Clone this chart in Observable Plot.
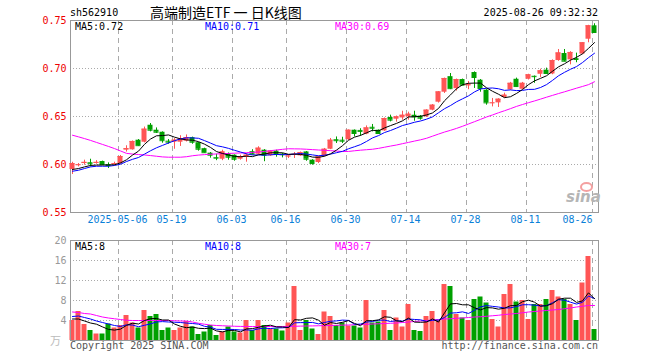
<!DOCTYPE html>
<html><head><meta charset="utf-8">
<script src="https://cdn.jsdelivr.net/npm/d3@7"></script>
<script src="https://cdn.jsdelivr.net/npm/@observablehq/plot@0.6"></script>
<style>
body{margin:0;background:#fff;}
#wrap{position:relative;width:660px;height:360px;background:#fff;overflow:hidden;font-family:"DejaVu Sans Mono",monospace;font-size:10px;}
.t{position:absolute;white-space:nowrap;line-height:10px;}
#price,#vol{position:absolute;left:0;}
#price{top:0;}
#vol{top:232px;}
</style></head>
<body><div id="wrap">
<div class="t" style="left:70px;top:8px;color:#000">sh562910</div>
<div class="t" style="left:150px;top:5px;font-family:'Noto Sans CJK SC';font-size:14px;line-height:14px;color:#000">高端制造ETF 一 日K线图</div>
<div class="t" style="right:62px;top:8px;color:#000">2025-08-26 09:32:32</div>
<div id="price"></div>
<div id="vol"></div>
<div class="t" id="pl0" style="left:75px;top:22px;color:#000"></div>
<div class="t" id="pl1" style="left:205px;top:22px;color:#00f"></div>
<div class="t" id="pl2" style="left:335px;top:22px;color:#f0f"></div>
<div class="t" id="vl0" style="left:75px;top:242px;color:#000"></div>
<div class="t" id="vl1" style="left:205px;top:242px;color:#00f"></div>
<div class="t" id="vl2" style="left:335px;top:242px;color:#f0f"></div>
<div class="t" style="left:50px;top:335px;color:#bbb;font-family:'Noto Sans CJK SC';font-size:11px;line-height:11px">万</div>
<div class="t" style="left:70px;top:341px;color:#555">Copyright 2025 SINA.COM</div>
<div class="t" style="right:62px;top:341px;color:#555">http://finance.sina.com.cn</div>
<div class="t" style="left:566px;top:190px;color:#b5b5b5;font-family:'DejaVu Sans';font-style:italic;font-weight:bold;font-size:15px;line-height:15px">sina</div>
<div style="position:absolute;left:580px;top:182px;width:9px;height:6px;border:2px solid #f4a0a0;border-radius:50%"></div>
</div>
<script>
const dates = ["2025-04-21","2025-04-22","2025-04-23","2025-04-24","2025-04-25","2025-04-28","2025-04-29","2025-04-30",
"2025-05-06","2025-05-07","2025-05-08","2025-05-09","2025-05-12","2025-05-13","2025-05-14","2025-05-15","2025-05-16","2025-05-19","2025-05-20","2025-05-21","2025-05-22","2025-05-23","2025-05-26","2025-05-27","2025-05-28","2025-05-29","2025-05-30",
"2025-06-03","2025-06-04","2025-06-05","2025-06-06","2025-06-09","2025-06-10","2025-06-11","2025-06-12","2025-06-13","2025-06-16","2025-06-17","2025-06-18","2025-06-19","2025-06-20","2025-06-23","2025-06-24","2025-06-25","2025-06-26","2025-06-27","2025-06-30",
"2025-07-01","2025-07-02","2025-07-03","2025-07-04","2025-07-07","2025-07-08","2025-07-09","2025-07-10","2025-07-11","2025-07-14","2025-07-15","2025-07-16","2025-07-17","2025-07-18","2025-07-21","2025-07-22","2025-07-23","2025-07-24","2025-07-25","2025-07-28","2025-07-29","2025-07-30","2025-07-31",
"2025-08-01","2025-08-04","2025-08-05","2025-08-06","2025-08-07","2025-08-08","2025-08-11","2025-08-12","2025-08-13","2025-08-14","2025-08-15","2025-08-18","2025-08-19","2025-08-20","2025-08-21","2025-08-22","2025-08-25","2025-08-26"];

const open = [0.5948,0.5990,0.6010,0.6018,0.6012,0.6031,0.5997,0.6002,0.6010,0.6150,
0.6153,0.6253,0.6232,0.6409,0.6357,0.6336,0.6243,0.6232,0.6232,0.6243,
0.6279,0.6227,0.6165,0.6118,0.6073,0.6055,0.6113,0.6097,0.6055,0.6076,
0.6133,0.6107,0.6149,0.6090,0.6139,0.6108,0.6082,0.6100,0.6090,0.6131,
0.6045,0.6021,0.6086,0.6159,0.6258,0.6253,0.6258,0.6357,0.6355,0.6316,
0.6388,0.6357,0.6350,0.6490,0.6472,0.6485,0.6496,0.6513,0.6503,0.6496,
0.6566,0.6649,0.6753,0.6915,0.6790,0.6885,0.6820,0.6958,0.6878,0.6774,
0.6637,0.6642,0.6698,0.6777,0.6888,0.6784,0.6888,0.6919,0.6940,0.6983,
0.6943,0.7083,0.7156,0.7090,0.7102,0.7150,0.7305,0.7445];
const high = [0.6023,0.6010,0.6045,0.6055,0.6040,0.6035,0.6017,0.6024,0.6094,0.6195,
0.6245,0.6260,0.6390,0.6427,0.6381,0.6340,0.6260,0.6270,0.6300,0.6308,
0.6285,0.6230,0.6170,0.6125,0.6107,0.6149,0.6120,0.6100,0.6097,0.6113,
0.6154,0.6185,0.6155,0.6145,0.6149,0.6115,0.6097,0.6125,0.6130,0.6135,
0.6050,0.6085,0.6167,0.6271,0.6287,0.6284,0.6360,0.6360,0.6373,0.6402,
0.6417,0.6360,0.6485,0.6514,0.6505,0.6555,0.6545,0.6555,0.6510,0.6570,
0.6625,0.6760,0.6900,0.6948,0.6890,0.6890,0.6865,0.6965,0.6885,0.6780,
0.6688,0.6685,0.6743,0.6855,0.6900,0.6855,0.6940,0.6922,0.6993,0.7004,
0.7090,0.7198,0.7198,0.7175,0.7160,0.7270,0.7450,0.7466];
const low = [0.5896,0.5975,0.5993,0.5975,0.6003,0.5992,0.5958,0.5993,0.6003,0.6130,
0.6150,0.6190,0.6225,0.6340,0.6323,0.6222,0.6211,0.6159,0.6188,0.6235,
0.6211,0.6139,0.6118,0.6066,0.6040,0.6040,0.6045,0.6034,0.6045,0.6024,
0.6100,0.6100,0.6029,0.6085,0.6076,0.6069,0.6062,0.6063,0.6085,0.6034,
0.5993,0.6010,0.6080,0.6155,0.6219,0.6219,0.6250,0.6288,0.6295,0.6310,
0.6340,0.6315,0.6345,0.6444,0.6441,0.6462,0.6462,0.6451,0.6462,0.6490,
0.6560,0.6640,0.6740,0.6780,0.6765,0.6820,0.6779,0.6792,0.6753,0.6618,
0.6600,0.6594,0.6690,0.6773,0.6805,0.6780,0.6880,0.6846,0.6906,0.6940,
0.6935,0.7075,0.7070,0.7038,0.7060,0.7145,0.7268,0.7365];
const close = [0.6010,0.5997,0.6022,0.6008,0.6022,0.5998,0.5990,0.6010,0.6083,0.6165,
0.6240,0.6196,0.6368,0.6357,0.6336,0.6248,0.6233,0.6253,0.6264,0.6281,
0.6232,0.6159,0.6123,0.6097,0.6066,0.6131,0.6076,0.6055,0.6076,0.6097,
0.6107,0.6170,0.6097,0.6139,0.6104,0.6102,0.6088,0.6106,0.6125,0.6055,
0.6010,0.6079,0.6159,0.6253,0.6248,0.6243,0.6357,0.6323,0.6345,0.6381,
0.6378,0.6323,0.6479,0.6462,0.6496,0.6513,0.6524,0.6496,0.6482,0.6566,
0.6618,0.6756,0.6896,0.6790,0.6885,0.6826,0.6831,0.6906,0.6792,0.6642,
0.6642,0.6680,0.6722,0.6846,0.6812,0.6846,0.6934,0.6915,0.6976,0.6948,
0.7083,0.7162,0.7076,0.7167,0.7094,0.7268,0.7445,0.7375];

const ma5 = [0.5948,0.5958,0.5975,0.5990,0.5994,0.5995,0.5996,0.5997,0.6017,0.6049,
0.6098,0.6139,0.6210,0.6265,0.6299,0.6301,0.6308,0.6285,0.6267,0.6256,
0.6253,0.6238,0.6212,0.6178,0.6135,0.6115,0.6099,0.6085,0.6081,0.6087,
0.6082,0.6101,0.6109,0.6122,0.6123,0.6122,0.6106,0.6108,0.6105,0.6095,
0.6077,0.6075,0.6086,0.6111,0.6150,0.6196,0.6252,0.6285,0.6303,0.6330,
0.6357,0.6350,0.6381,0.6405,0.6428,0.6455,0.6495,0.6498,0.6502,0.6516,
0.6537,0.6584,0.6664,0.6725,0.6789,0.6831,0.6846,0.6848,0.6848,0.6799,
0.6763,0.6732,0.6696,0.6706,0.6740,0.6781,0.6832,0.6871,0.6897,0.6924,
0.6971,0.7017,0.7049,0.7087,0.7116,0.7153,0.7210,0.7270];
const ma10 = [0.5930,0.5940,0.5958,0.5975,0.5982,0.5982,0.5982,0.5990,0.6003,0.6031,
0.6054,0.6073,0.6108,0.6143,0.6174,0.6199,0.6224,0.6248,0.6266,0.6278,
0.6277,0.6273,0.6249,0.6223,0.6196,0.6184,0.6168,0.6148,0.6130,0.6111,
0.6099,0.6100,0.6097,0.6101,0.6105,0.6102,0.6104,0.6109,0.6114,0.6109,
0.6100,0.6091,0.6097,0.6108,0.6123,0.6137,0.6164,0.6185,0.6207,0.6240,
0.6277,0.6301,0.6333,0.6354,0.6379,0.6406,0.6422,0.6440,0.6453,0.6472,
0.6496,0.6539,0.6581,0.6614,0.6653,0.6684,0.6715,0.6756,0.6787,0.6794,
0.6797,0.6789,0.6772,0.6777,0.6770,0.6772,0.6782,0.6783,0.6802,0.6832,
0.6876,0.6924,0.6960,0.6992,0.7020,0.7062,0.7113,0.7159];
const ma30 = [0.6305,0.6288,0.6270,0.6251,0.6230,0.6209,0.6188,0.6166,0.6141,0.6116,
0.6109,0.6104,0.6099,0.6093,0.6086,0.6079,0.6076,0.6076,0.6076,0.6081,
0.6091,0.6098,0.6103,0.6107,0.6110,0.6113,0.6115,0.6118,0.6120,0.6123,
0.6126,0.6130,0.6136,0.6144,0.6151,0.6158,0.6164,0.6163,0.6162,0.6159,
0.6155,0.6151,0.6148,0.6144,0.6140,0.6135,0.6136,0.6143,0.6149,0.6154,
0.6159,0.6168,0.6180,0.6192,0.6203,0.6217,0.6230,0.6244,0.6257,0.6273,
0.6295,0.6317,0.6338,0.6356,0.6376,0.6398,0.6422,0.6446,0.6470,0.6495,
0.6516,0.6539,0.6560,0.6582,0.6605,0.6625,0.6644,0.6662,0.6681,0.6701,
0.6720,0.6739,0.6757,0.6776,0.6795,0.6813,0.6832,0.6862];

const volume = [4.0,5.8,3.2,2.0,1.3,1.3,3.3,2.5,3.0,5.0,
3.5,2.5,6.0,4.8,5.2,2.0,2.5,2.0,2.5,3.8,
2.7,1.2,1.7,3.0,1.0,1.7,2.7,1.7,1.5,4.0,
2.0,4.0,3.0,2.3,2.3,1.9,3.5,10.8,2.0,4.0,
2.3,1.2,5.7,4.8,3.0,3.5,2.9,2.9,2.5,8.0,
3.5,3.7,6.0,2.0,4.5,2.7,7.2,2.0,1.8,4.8,
5.8,4.0,11.2,10.8,5.2,4.5,4.0,8.2,8.7,7.5,
4.2,2.7,9.2,11.2,7.7,8.0,4.2,7.2,7.2,8.2,
10.0,8.7,8.2,7.2,4.0,11.5,16.8,2.2];
const volMa5 = [4.3,4.3,3.9,3.5,3.26,2.72,2.22,2.08,2.28,3.02,
3.46,3.30,4.0,4.36,4.4,4.1,4.1,3.3,2.84,2.56,
2.7,2.44,2.38,2.48,1.92,1.72,2.02,2.02,1.72,2.32,
2.38,2.64,2.9,3.06,2.72,2.7,2.6,4.16,4.1,4.44,
4.52,4.06,3.04,3.6,3.4,3.64,3.98,3.42,2.96,3.96,
3.96,4.12,4.74,4.64,3.94,3.78,4.48,3.68,3.64,3.7,
4.32,3.68,5.52,7.32,7.4,7.14,7.14,6.54,6.12,6.58,
6.52,6.26,6.46,6.96,7.0,7.76,8.06,7.66,6.86,6.96,
7.36,8.26,8.46,8.46,7.62,7.92,9.54,8.34];
const volMa10 = [4.8,4.9,4.6,4.3,3.9,3.6,3.3,3.0,2.8,3.14,
3.09,2.76,3.04,3.32,3.71,3.78,3.7,3.65,3.6,3.48,
3.4,3.27,2.84,2.66,2.24,2.21,2.23,2.2,2.1,2.12,
2.05,2.33,2.46,2.39,2.52,2.54,2.62,3.53,3.58,3.58,
3.61,3.33,3.6,3.85,3.92,4.08,4.02,3.23,3.28,3.68,
3.8,4.05,4.08,3.8,3.95,3.87,4.3,4.21,4.14,3.82,
4.05,4.08,4.6,5.48,5.55,5.73,5.41,6.03,6.72,6.99,
6.83,6.7,6.5,6.54,6.79,7.14,7.16,7.06,6.91,6.98,
7.56,8.16,8.06,7.66,7.29,7.64,8.9,8.4];
const volMa30 = [5.7,5.6,5.4,5.3,5.0,4.7,4.5,4.35,4.2,4.05,
4.0,4.0,4.0,4.0,4.0,4.0,4.0,3.95,3.9,3.9,
3.7,3.45,3.25,3.1,3.0,2.95,2.9,2.85,2.82,2.8,
2.8,2.8,2.8,2.8,2.8,2.8,2.82,2.85,2.88,2.9,
2.92,2.95,2.98,3.0,3.05,3.08,3.1,3.15,3.2,3.25,
3.3,3.35,3.4,3.45,3.5,3.6,3.7,3.8,3.9,4.0,
4.1,4.2,4.3,4.35,4.45,4.5,4.6,4.7,4.75,4.85,
4.95,5.05,5.2,5.3,5.4,5.55,5.7,5.8,5.9,6.0,
6.1,6.2,6.35,6.5,6.7,6.85,7.0,7.0];

const priceTicks = [0.55, 0.60, 0.65, 0.70, 0.75];
const priceGrid = [0.60, 0.65, 0.70];
const volTicks = [4, 8, 12, 16, 20];
const volGrid = [4, 8, 12, 16];
const dateTicks = ["2025-05-06","2025-05-19","2025-06-03","2025-06-16","2025-06-30","2025-07-14","2025-07-28","2025-08-11","2025-08-26"];
const dateTickLabels = ["2025-05-06","05-19","06-03","06-16","06-30","07-14","07-28","08-11","08-26"];
const priceLegend = ["MA5:0.72","MA10:0.71","MA30:0.69"];
const volLegend = ["MA5:8","MA10:8","MA30:7"];

const UP = "#ff5555", DOWN = "#00a000";
const rows = dates.map((d, i) => ({
  i, date: d, open: open[i], high: high[i], low: low[i], close: close[i],
  ma5: ma5[i], ma10: ma10[i], ma30: ma30[i],
  vol: volume[i], vma5: volMa5[i], vma10: volMa10[i], vma30: volMa30[i],
  color: close[i] >= open[i] ? UP : DOWN
}));
const tickRows = dateTicks.map((d, k) => ({i: dates.indexOf(d), label: dateTickLabels[k]}));
const midTicks = tickRows.slice(0, -1), lastTick = tickRows.slice(-1);

const HW = 0.4167;
const xScale = {type: "linear", domain: [-0.4167, 87.5833], range: [69.5, 597.5], axis: null};
const style = {fontFamily: "DejaVu Sans Mono", fontSize: "10px", background: "transparent", overflow: "visible"};
const gridX = Plot.ruleX(tickRows, {x: d => d.i - 0.333, stroke: "#aaa", strokeDasharray: "5,4"});

const price = Plot.plot({
  width: 660, height: 232, marginTop: 20, marginBottom: 20, marginLeft: 70, marginRight: 62,
  x: xScale,
  y: {domain: [0.55, 0.75], range: [212, 20], axis: null},
  color: {type: "identity"},
  style,
  marks: [
    Plot.ruleY(priceGrid, {y: d => d, stroke: "#aaa", strokeDasharray: "1,2"}),
    gridX,
    Plot.frame({stroke: "#999"}),
    Plot.ruleX(rows, {x: "i", y1: "low", y2: "high", stroke: "color"}),
    Plot.rect(rows, {x1: d => d.i - HW, x2: d => d.i + HW, y1: "open", y2: "close", fill: "color"}),
    Plot.ruleY(rows, {x1: d => d.i - HW, x2: d => d.i + HW, y: "close", stroke: "color"}),
    Plot.line(rows, {x: "i", y: "ma30", stroke: "#ff00ff", strokeWidth: 1}),
    Plot.line(rows, {x: "i", y: "ma10", stroke: "#0000ff", strokeWidth: 1}),
    Plot.line(rows, {x: "i", y: "ma5", stroke: "#000000", strokeWidth: 1}),
    Plot.text(priceTicks, {y: d => d, text: d => d.toFixed(2), frameAnchor: "left", textAnchor: "end", dx: -4, fill: "#ee0000"}),
    Plot.text(midTicks, {x: d => d.i - 0.5, text: "label", frameAnchor: "bottom", dy: 10, fill: "#0a80d8"}),
    Plot.text(lastTick, {x: d => d.i - 0.333, text: "label", frameAnchor: "bottom", dy: 10, textAnchor: "end", fill: "#0a80d8"})
  ]
});
document.getElementById("price").appendChild(price);

const vol = Plot.plot({
  width: 660, height: 128, marginTop: 8, marginBottom: 20, marginLeft: 70, marginRight: 62,
  x: xScale,
  y: {domain: [0, 20], range: [108, 8], axis: null},
  color: {type: "identity"},
  style,
  marks: [
    Plot.ruleY(volGrid, {y: d => d, stroke: "#aaa", strokeDasharray: "1,2"}),
    gridX,
    Plot.rect(rows, {x1: d => d.i - HW, x2: d => d.i + HW, y1: d => 0, y2: "vol", fill: "color"}),
    Plot.line(rows, {x: "i", y: "vma30", stroke: "#ff00ff", strokeWidth: 1}),
    Plot.line(rows, {x: "i", y: "vma10", stroke: "#0000ff", strokeWidth: 1}),
    Plot.line(rows, {x: "i", y: "vma5", stroke: "#000000", strokeWidth: 1}),
    Plot.frame({stroke: "#999"}),
    Plot.text(volTicks, {y: d => d, text: d => String(d), frameAnchor: "left", textAnchor: "end", dx: -4, fill: "#999"})
  ]
});
document.getElementById("vol").appendChild(vol);

priceLegend.forEach((s, k) => document.getElementById("pl" + k).textContent = s);
volLegend.forEach((s, k) => document.getElementById("vl" + k).textContent = s);
</script>
</body></html>
